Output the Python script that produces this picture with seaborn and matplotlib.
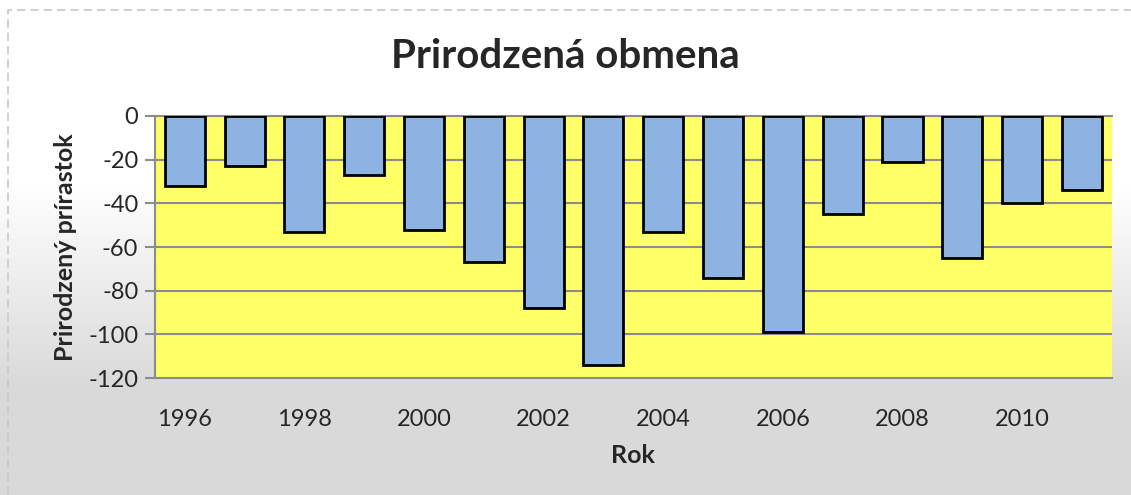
import numpy as np
import pandas as pd
import matplotlib.pyplot as plt
import seaborn as sns
from matplotlib.patches import Rectangle

years = list(range(1996, 2012))
prirastok = [-32, -23, -53, -27, -52, -67, -88, -114, -53, -74, -99, -45, -21, -65, -40, -34]
y_ticks = [0, -20, -40, -60, -80, -100, -120]

df = pd.DataFrame({"Rok": [str(y) for y in years], "Prirastok": prirastok})

sns.set_style("white")
plt.rcParams['font.family'] = ['Lato', 'DejaVu Sans']

fig = plt.figure(figsize=(11.31, 4.95), dpi=100)

# background gradient white -> gray like the Excel chart area
bg = fig.add_axes([0, 0, 1, 1], zorder=-10)
rows = np.linspace(0, 1, 495)
shade = np.clip((rows - 0.36) / 0.42, 0, 1)
grad = 1.0 - shade * (1.0 - 0.85)
bg.imshow(np.tile(grad[:, None], (1, 10)), cmap='gray', vmin=0, vmax=1,
          aspect='auto', extent=[0, 1, 0, 1], origin='upper')
bg.axis('off')
fig.patches.append(Rectangle((0.007, -0.02), 1.1, 1.0, transform=fig.transFigure,
                             fill=False, edgecolor='#C8C8C8', linestyle=(0, (5, 3)),
                             linewidth=1.2))

ax = fig.add_axes([0.137, 0.236, 0.846, 0.530])
ax.set_facecolor('#FFFF66')
sns.barplot(data=df, x="Rok", y="Prirastok", color='#8DB3E2', edgecolor='black',
            linewidth=2, width=0.67, saturation=1, ax=ax, zorder=3)

ax.set_ylim(-120, 0)
ax.set_yticks(y_ticks)
ax.set_yticklabels([str(t) for t in y_ticks], fontsize=17)
ax.yaxis.grid(True, color='#8C8C8C', linewidth=1.5, zorder=0)
ax.set_axisbelow(True)

ax.set_xticks(range(0, len(years), 2))
ax.set_xticklabels([str(y) for y in years[::2]], fontsize=17)
ax.tick_params(axis='x', length=0, pad=22)
ax.tick_params(axis='y', length=7, width=1.5, color='#8C8C8C', direction='out', pad=5, left=True)

for side in ['top', 'bottom', 'left']:
    ax.spines[side].set_color('#8C8C8C')
    ax.spines[side].set_linewidth(1.5)
ax.spines['right'].set_visible(False)

ax.set_xlabel('Rok', fontsize=18, fontweight='bold', labelpad=10)
ax.set_ylabel('Prirodzený prírastok', fontsize=18, fontweight='bold', labelpad=8)
fig.text(0.5, 0.885, 'Prirodzená obmena', fontsize=29, fontweight='bold',
         ha='center', va='center')

fig.savefig("out.png", dpi=100)
